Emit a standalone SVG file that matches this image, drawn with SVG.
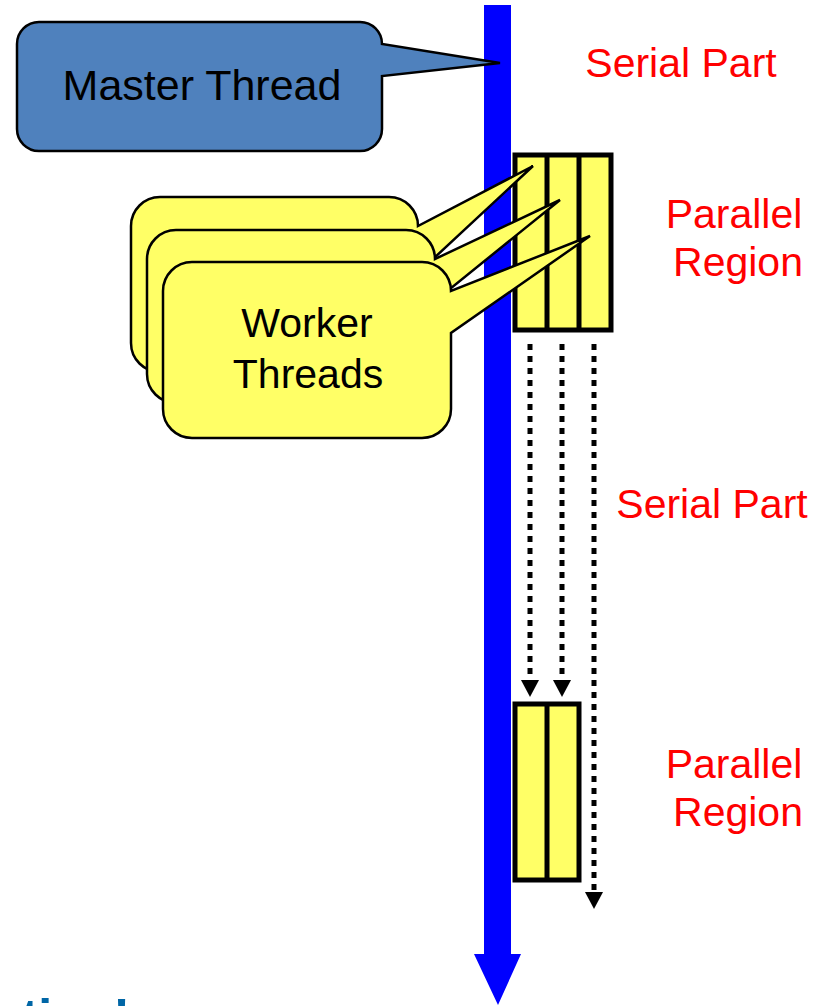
<svg xmlns="http://www.w3.org/2000/svg" width="829" height="1006" viewBox="0 0 829 1006">
<style>
.lbl{font-family:"Liberation Sans",Arial,sans-serif;font-size:41px;fill:#000}
.red{font-family:"Liberation Sans",Arial,sans-serif;font-size:41px;fill:#FF0000}
.yel{fill:#FFFF66;stroke:#000;stroke-width:2.5;stroke-linejoin:miter}
.box{fill:#FFFF66;stroke:#000;stroke-width:5}
.dot{stroke:#000;stroke-width:5;stroke-dasharray:6 6;fill:none}
</style>
<defs>
<marker id="ah" markerUnits="userSpaceOnUse" markerWidth="17" markerHeight="18" refX="0" refY="0" viewBox="0 -9 17 18" orient="auto" overflow="visible">
<path d="M0,-9 L17,0 L0,9 Z" fill="#000"/>
</marker>
</defs>
<rect width="829" height="1006" fill="#fff"/>

<g id="timeline">
<path d="M484,5 H511 V954 H521 L498,1005 L474,954 H484 Z" fill="#0000FF"/>
</g>

<g id="parallel-region-1">
<rect class="box" x="515" y="155" width="96" height="175"/>
<line x1="547" y1="155" x2="547" y2="330" stroke="#000" stroke-width="5"/>
<line x1="579" y1="155" x2="579" y2="330" stroke="#000" stroke-width="5"/>
</g>

<g id="parallel-region-2">
<rect class="box" x="515" y="704" width="64" height="176"/>
<line x1="547" y1="704" x2="547" y2="880" stroke="#000" stroke-width="5"/>
</g>

<g id="master-thread">
<path d="M39,22 H360 A22,22 0 0 1 382,44 L500,63 L382,76 V129 A22,22 0 0 1 360,151 H39 A22,22 0 0 1 17,129 V44 A22,22 0 0 1 39,22 Z" fill="#4F81BD" stroke="#000" stroke-width="2.5"/>
<text class="lbl" x="202" y="100" text-anchor="middle" style="font-size:43px">Master Thread</text>
</g>

<g id="worker-back">
<path class="yel" d="M160,197 H389 A29,29 0 0 1 418,226 L533,166 L418,273 V343 A29,29 0 0 1 389,372 H160 A29,29 0 0 1 131,343 V226 A29,29 0 0 1 160,197 Z"/>
</g>
<g id="worker-middle">
<path class="yel" d="M176,230 H406 A29,29 0 0 1 435,259 L560,200 L435,301 V374 A29,29 0 0 1 406,403 H176 A29,29 0 0 1 147,374 V259 A29,29 0 0 1 176,230 Z"/>
</g>
<g id="worker-front">
<path class="yel" d="M192,262 H422 A29,29 0 0 1 451,291 L590,236 L451,333 V409 A29,29 0 0 1 422,438 H192 A29,29 0 0 1 163,409 V291 A29,29 0 0 1 192,262 Z"/>
<text class="lbl" x="307" y="337" text-anchor="middle">Worker</text>
<text class="lbl" x="308" y="388" text-anchor="middle">Threads</text>
</g>

<g id="connectors">
<line class="dot" x1="530" y1="344" x2="530" y2="680" marker-end="url(#ah)"/>
<line class="dot" x1="562" y1="344" x2="562" y2="680" marker-end="url(#ah)"/>
<line class="dot" x1="594" y1="344" x2="594" y2="892" marker-end="url(#ah)"/>
</g>

<g id="labels">
<text class="red" x="681" y="77" text-anchor="middle">Serial Part</text>
<text class="red" x="734" y="228" text-anchor="middle">Parallel</text>
<text class="red" x="738" y="276" text-anchor="middle">Region</text>
<text class="red" x="712" y="518" text-anchor="middle">Serial Part</text>
<text class="red" x="734" y="778" text-anchor="middle">Parallel</text>
<text class="red" x="738" y="826" text-anchor="middle">Region</text>
</g>

<text x="130" y="1034" text-anchor="end" style="font-family:'Liberation Sans',Arial,sans-serif;font-size:50px;font-weight:bold;fill:#0066A6">ation!</text>
</svg>
